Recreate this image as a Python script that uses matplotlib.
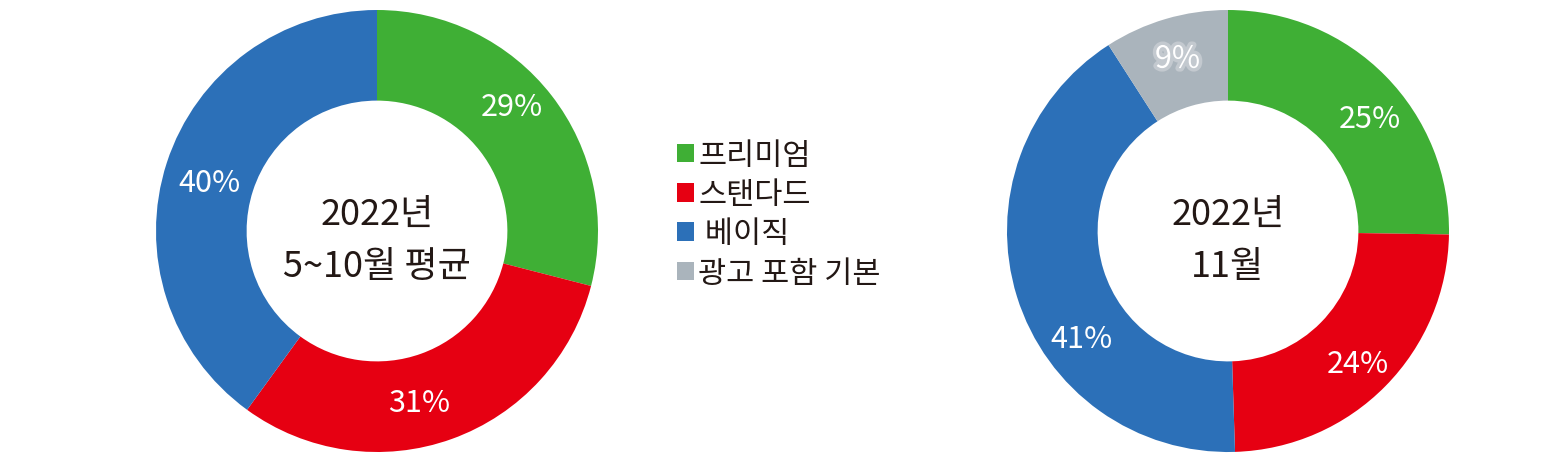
import numpy as np
import matplotlib
matplotlib.use("Agg")
import matplotlib.pyplot as plt
import matplotlib.patheffects as pe
from matplotlib.patches import Patch

plt.rcParams['font.family'] = ['Noto Sans CJK KR', 'DejaVu Sans']

# Data
categories = ["프리미엄", "스탠다드", " 베이직", "광고 포함 기본"]
colors = ["#3FAF35", "#E60012", "#2C70B8", "#AAB4BC"]

left_title = "2022년\n5~10월 평균"
left_values = [29, 31, 40]

right_title = "2022년\n11월"
right_values = [25, 24, 41, 9]

# label placement tweaks (degrees from wedge middle, radius fraction)
left_label_shift = [5, -6, 2]
left_label_r = [0.83, 0.80, 0.79]
right_label_shift = [-6, -1, 19, 0]
right_label_r = [0.82, 0.84, 0.82, 0.81]

W, H = 1562, 477
fig = plt.figure(figsize=(W / 100, H / 100), dpi=100)


def donut(cx, cy, r, values, title, shifts, radii):
    ax = fig.add_axes([(cx - r) / W, (H - cy - r) / H, 2 * r / W, 2 * r / H])
    wedges, _ = ax.pie(
        values,
        colors=colors[:len(values)],
        startangle=90,
        counterclock=False,
        radius=1.0,
        wedgeprops=dict(width=0.41, edgecolor="none"),
    )
    ax.set_xlim(-1, 1)
    ax.set_ylim(-1, 1)
    ax.set_aspect("equal")
    ax.axis("off")

    for i, (w, v) in enumerate(zip(wedges, values)):
        ang = np.deg2rad((w.theta1 + w.theta2) / 2 + shifts[i])
        t = ax.text(radii[i] * np.cos(ang), radii[i] * np.sin(ang), f"{v}%",
                    ha="center", va="center", color="white", fontsize=22,
                    fontweight="light")
        if i == 3:
            t.set_path_effects([pe.withStroke(linewidth=5, foreground="#C3C9CF")])

    ax.text(0, -0.04, title, ha="center", va="center", fontsize=26,
            color="#231815", linespacing=1.55)
    return ax


donut(377, 232, 221, left_values, left_title, left_label_shift, left_label_r)
donut(1228, 232, 221, right_values, right_title, right_label_shift, right_label_r)

handles = [Patch(facecolor=c, edgecolor="none") for c in colors]
fig.legend(handles, categories, loc="upper left", bbox_to_anchor=(677 / W, 1 - 141 / H),
           frameon=False, fontsize=22, handlelength=0.55, handleheight=0.55,
           handletextpad=0.15, labelspacing=0.27, borderaxespad=0, borderpad=0,
           labelcolor="#231815")

fig.savefig("out.png", dpi=100)
